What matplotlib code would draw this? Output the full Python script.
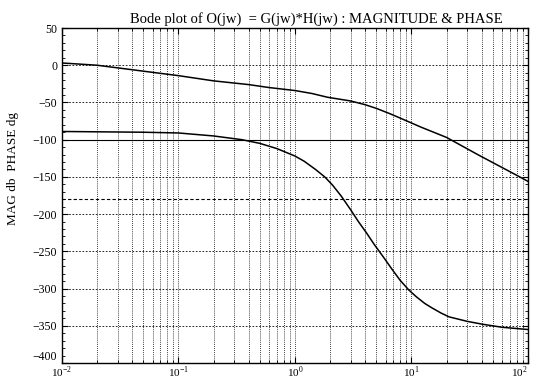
import numpy as np
import matplotlib
matplotlib.use('Agg')
from matplotlib import pyplot as plt
from matplotlib.ticker import LogLocator, MultipleLocator, NullFormatter

plt.rcParams['font.family'] = ['Liberation Serif', 'DejaVu Serif']
plt.rcParams['mathtext.fontset'] = 'custom'
plt.rcParams['mathtext.rm'] = 'Liberation Serif'

# magnitude (dB)
magW = [0.01, 0.02, 0.05, 0.1, 0.2, 0.4, 0.6, 1.0, 1.4, 1.9, 3.0, 4.0, 5.0, 6.5, 8.0, 12, 20, 38, 74, 100]
magDb = [3, 0, -8, -14, -21, -26, -30, -34, -38, -43, -48, -53, -58, -65, -71, -83, -97, -121, -145, -156]

# phase (deg)
phW = [0.01, 0.05, 0.1, 0.2, 0.35, 0.5, 0.7, 1.0, 1.2, 1.5, 1.8, 2.1, 2.5, 3.0, 3.5, 4.1, 4.8, 5.7,
       6.8, 8.0, 9.5, 11, 13, 15, 18, 21, 30, 41, 60, 100]
phDeg = [-89, -90, -91, -95, -100, -105, -112, -122, -129, -140, -150, -161, -176, -194, -210, -225, -241, -257,
         -274, -289, -302, -311, -320, -326, -333, -338, -344, -348, -352, -355]

yTicks = list(range(50, -401, -50))
xTicks = [1e-2, 1e-1, 1e0, 1e1, 1e2]
xLabels = ['$10^{-2}$', '$10^{-1}$', '$10^{0}$', '$10^{1}$', '$10^{2}$']

fig = plt.figure(figsize=(5.33, 3.82), dpi=100)
ax = fig.add_axes([0.1163, 0.0497, 0.8743, 0.877])

ax.semilogx(magW, magDb, color='black', lw=1.1)
ax.semilogx(phW, phDeg, color='black', lw=1.1)

# reference lines
ax.axhline(-100, color='black', lw=0.8)
ax.axhline(-180, color='black', lw=0.8, ls=(0, (3, 2)))

ax.set_xlim(1e-2, 1e2)
ax.set_ylim(-400, 50)
ax.set_yticks(yTicks)
ax.yaxis.set_minor_locator(MultipleLocator(10))
ax.set_xticks(xTicks)
ax.set_xticklabels(xLabels)
ax.xaxis.set_minor_locator(LogLocator(base=10, subs=np.arange(2, 10)))
ax.xaxis.set_minor_formatter(NullFormatter())

ax.grid(True, which='major', axis='y', color='black', ls=(0, (2, 2)), lw=0.6)
ax.grid(True, which='both', axis='x', color='black', ls=(0, (1, 1.5)), lw=0.6)

ax.tick_params(which='both', direction='in', top=True, right=True, labelsize=8.5)
ax.tick_params(axis='x', labelsize=8, pad=1)
ax.tick_params(which='minor', length=2)
ax.tick_params(which='major', length=4)
for s in ax.spines.values():
    s.set_linewidth(1.0)

# lowest y label sits a bit higher, as in the scan; keep last x label inside figure
ax.get_yticklabels()[-1].set_va('bottom')
ax.get_xticklabels()[-1].set_ha('right')

ax.set_title('Bode plot of O(jw)  = G(jw)*H(jw) : MAGNITUDE & PHASE', fontsize=10.5, pad=4, x=0.546)
ax.set_ylabel('MAG db  PHASE dg', fontsize=9.5, labelpad=8)
ax.yaxis.set_label_coords(-0.092, 0.58)

fig.savefig('out.png', dpi=100)
